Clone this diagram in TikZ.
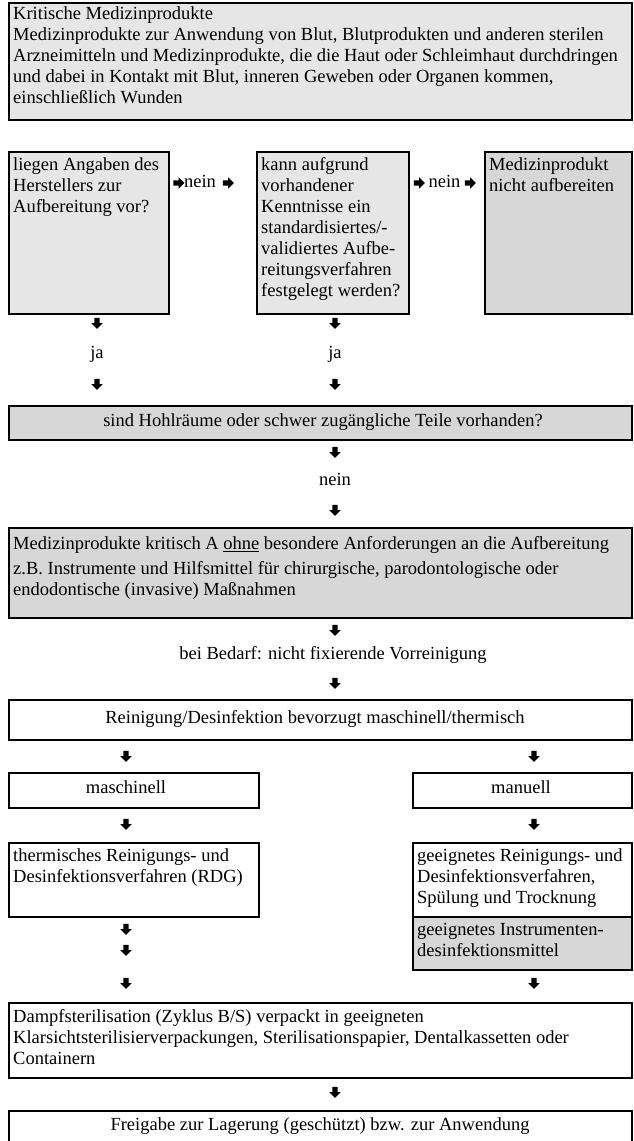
\documentclass[tikz,border=0pt]{standalone}
\usepackage{fontspec}
\setmainfont{Liberation Serif}
\usetikzlibrary{shapes.arrows}

\definecolor{grauhell}{RGB}{230,230,230}
\definecolor{graudunkel}{RGB}{215,215,215}

\tikzset{
  kasten/.style={draw, line width=1.8pt, inner sep=0pt, anchor=north west},
  schrift/.style={inner sep=0pt, anchor=north west, align=left, font=\fontsize{18.5pt}{21pt}\selectfont},
  mitte/.style={inner sep=0pt, align=center, text height=13pt, text depth=4pt, font=\fontsize{18.5pt}{21pt}\selectfont},
  pfeil/.style={single arrow, fill=black, draw=none, inner xsep=0pt, inner ysep=2.4pt, minimum height=11pt, single arrow head extend=3pt, single arrow head indent=0pt},
  pfeilab/.style={pfeil, rotate=-90}
}

\begin{document}
\begin{tikzpicture}[x=1pt,y=-1pt]
\useasboundingbox (0,0) rectangle (633,1141);

\node[kasten, fill=grauhell, minimum width=623, minimum height=117] (kritisch) at (8,2) {};
\node[schrift] (kritischText) at (13,6) {Kritische Medizinprodukte\\
Medizinprodukte zur Anwendung von Blut, Blutprodukten und anderen sterilen\\
Arzneimitteln und Medizinprodukte, die die Haut oder Schleimhaut durchdringen\\
und dabei in Kontakt mit Blut, inneren Geweben oder Organen kommen,\\
einschließlich Wunden};

\node[kasten, fill=grauhell, minimum width=160, minimum height=162] (angaben) at (8,151) {};
\node[schrift] (angabenText) at (13,157) {liegen Angaben des\\Herstellers zur\\Aufbereitung vor?};
\node[kasten, fill=grauhell, minimum width=152, minimum height=162] (kenntnisse) at (256,151) {};
\node[schrift] (kenntnisseText) at (261,157) {kann aufgrund\\vorhandener\\Kenntnisse ein\\standardisiertes/-\\validiertes Aufbe-\\reitungsverfahren\\festgelegt werden?};
\node[kasten, fill=graudunkel, minimum width=147, minimum height=162] (nichtAufb) at (484,151) {};
\node[schrift] (nichtAufbText) at (489,157) {Medizinprodukt\\nicht aufbereiten};

\node[pfeil] (neinA1) at (177.5,183) {};
\node[mitte] (neinA) at (200,183) {nein};
\node[pfeil] (neinA2) at (227,183) {};
\node[pfeil] (neinB1) at (418,183) {};
\node[mitte] (neinB) at (444.5,183) {nein};
\node[pfeil] (neinB2) at (469,183) {};

\node[pfeilab] (jaA1) at (97,322) {};
\node[mitte] (jaA) at (97,354) {ja};
\node[pfeilab] (jaA2) at (97,383) {};
\node[pfeilab] (jaB1) at (335,322) {};
\node[mitte] (jaB) at (335,354) {ja};
\node[pfeilab] (jaB2) at (335,383) {};

\node[kasten, fill=graudunkel, minimum width=623, minimum height=34] (hohl) at (8,405) {};
\node[mitte] (hohlText) at (323,422) {sind Hohlräume oder schwer zugängliche Teile vorhanden?};

\node[pfeilab] (neinC1) at (335,451) {};
\node[mitte] (neinC) at (335,481) {nein};
\node[pfeilab] (neinC2) at (335,509) {};

\node[kasten, fill=graudunkel, minimum width=623, minimum height=90] (kritischA) at (8,527) {};
\node[schrift] (kritischAText) at (13,536) {Medizinprodukte kritisch A \underline{ohne} besondere Anforderungen an die Aufbereitung\\[4pt]
z.B. Instrumente und Hilfsmittel für chirurgische, parodontologische oder\\
endodontische (invasive) Maßnahmen};

\node[pfeilab] (bedarf1) at (335,629) {};
\node[mitte] (bedarf) at (333,655) {bei Bedarf: nicht fixierende Vorreinigung};
\node[pfeilab] (bedarf2) at (335,682) {};

\node[kasten, fill=white, minimum width=623, minimum height=40] (reinigung) at (8,699) {};
\node[mitte] (reinigungText) at (315,719) {Reinigung/Desinfektion bevorzugt maschinell/thermisch};

\node[pfeilab] (maschPfeil) at (126,755) {};
\node[pfeilab] (manuPfeil) at (534,755) {};

\node[kasten, fill=white, minimum width=250, minimum height=35] (masch) at (8,772) {};
\node[mitte] (maschText) at (126,789) {maschinell};
\node[kasten, fill=white, minimum width=219, minimum height=35] (manu) at (412,772) {};
\node[mitte] (manuText) at (521,789) {manuell};

\node[pfeilab] (maschPfeil2) at (126,823) {};
\node[pfeilab] (manuPfeil2) at (534,823) {};

\node[kasten, fill=white, minimum width=250, minimum height=74] (therm) at (8,842) {};
\node[schrift] (thermText) at (13,848) {thermisches Reinigungs- und\\Desinfektionsverfahren (RDG)};
\node[kasten, fill=white, minimum width=219, minimum height=74] (geeignet) at (412,842) {};
\node[schrift] (geeignetText) at (417,848) {geeignetes Reinigungs- und\\Desinfektionsverfahren,\\Spülung und Trocknung};
\node[kasten, fill=graudunkel, minimum width=219, minimum height=53] (instr) at (412,916) {};
\node[schrift] (instrText) at (417,923) {geeignetes Instrumenten-\\desinfektionsmittel};

\node[pfeilab] (thermPfeil1) at (126,928) {};
\node[pfeilab] (thermPfeil2) at (126,949) {};
\node[pfeilab] (thermPfeil3) at (126,982) {};
\node[pfeilab] (instrPfeil) at (534,982) {};

\node[kasten, fill=white, minimum width=623, minimum height=75] (dampf) at (8,1002) {};
\node[schrift] (dampfText) at (13,1009) {Dampfsterilisation (Zyklus B/S) verpackt in geeigneten\\
Klarsichtsterilisierverpackungen, Sterilisationspapier, Dentalkassetten oder\\
Containern};

\node[pfeilab] (dampfPfeil) at (335,1091) {};

\node[kasten, fill=white, minimum width=623, minimum height=60] (freigabe) at (8,1110) {};
\node[mitte] (freigabeText) at (320,1126) {Freigabe zur Lagerung (geschützt) bzw. zur Anwendung};
\end{tikzpicture}
\end{document}
